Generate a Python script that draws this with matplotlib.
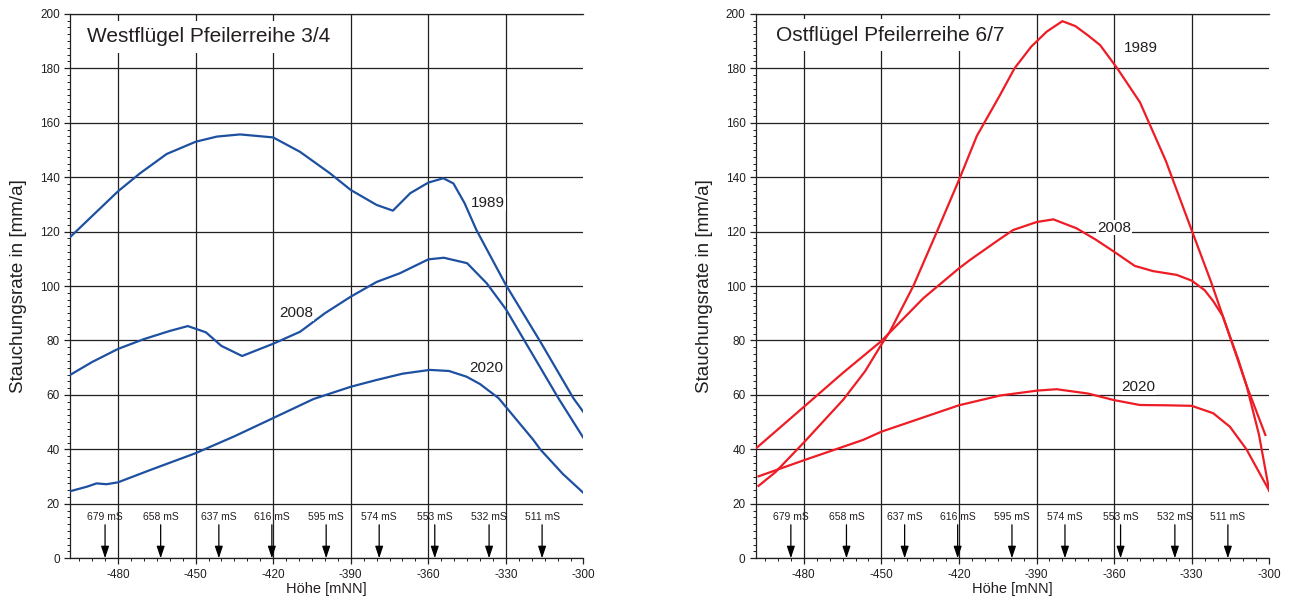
import matplotlib
matplotlib.use("Agg")
import matplotlib.pyplot as plt
from matplotlib.ticker import MultipleLocator

plt.rcParams["font.family"] = ["Liberation Sans", "DejaVu Sans"]
plt.rcParams["axes.unicode_minus"] = False

# ---------------- data ----------------
# Westflügel Pfeilerreihe 3/4
w1989_x = [-498.6, -480, -471.5, -461.2, -450, -441.8, -432.8, -420, -409.6, -398, -390,
           -380, -373.7, -367, -360, -354.2, -350.3, -346, -341.4, -330, -316.7, -303.9, -300]
w1989_y = [117.9, 134.8, 141.4, 148.5, 153.0, 154.9, 155.7, 154.6, 149.3, 141.4, 135.3,
           129.8, 127.7, 134.1, 138.0, 139.6, 137.7, 130.5, 120.6, 100.4, 79.6, 58.8, 53.7]
w2008_x = [-498.6, -490, -480, -470, -460, -453, -446, -440, -432, -420, -409.6, -400,
           -390, -380, -371, -360, -354, -345, -337.4, -330, -309.7, -300]
w2008_y = [67.3, 72.1, 76.9, 80.5, 83.5, 85.3, 83.0, 78.0, 74.3, 78.8, 83.2, 90.0,
           96.1, 101.5, 104.7, 109.8, 110.4, 108.4, 101.0, 91.5, 58.8, 44.2]
w2020_x = [-498.6, -492, -488.3, -484.4, -480, -467.6, -450, -435, -420, -404.4, -390,
           -380, -370, -359.4, -352, -345.2, -340, -332.8, -319.4, -316.7, -308, -300]
w2020_y = [24.6, 26.3, 27.5, 27.2, 27.9, 32.4, 38.6, 44.8, 51.5, 58.5, 63.0,
           65.5, 67.8, 69.2, 68.8, 66.7, 64.0, 58.8, 43.5, 40.0, 31.0, 24.0]

# Ostflügel Pfeilerreihe 6/7
o1989_x = [-497.5, -491, -480, -464.7, -456.3, -450, -446.7, -437.6, -428.6, -419.8, -413.1,
           -404.1, -398.5, -392, -386, -380, -375, -370, -365.4, -358.8, -350, -340, -330,
           -322.5, -315.6, -308.8, -301.5]
o1989_y = [26.6, 31.6, 42.5, 58.3, 68.7, 78.5, 83.3, 100.1, 119.8, 139.4, 155.1,
           170.2, 180.0, 188.0, 193.5, 197.3, 195.5, 192.0, 188.5, 180.0, 167.5, 146.0, 120.5,
           101.5, 82.5, 63.5, 45.3]
o2008_x = [-498.2, -480, -465, -450, -433.8, -420, -415.7, -404, -399, -390, -383.5, -374.5,
           -367, -360, -352, -345, -335.8, -330, -325, -321.7, -318, -315.6, -312, -308.8,
           -304, -300]
o2008_y = [40.6, 55.6, 68.0, 79.8, 95.5, 106.5, 109.6, 117.4, 120.6, 123.5, 124.5, 121.2,
           117.0, 112.6, 107.4, 105.5, 104.1, 102.0, 98.5, 94.5, 89.0, 82.5, 73.0, 63.5,
           45.5, 24.8]
o2020_x = [-497.5, -480, -457, -450, -420, -404, -389.7, -382.2, -370, -360, -350, -340,
           -330, -321.7, -315.2, -308.8, -300]
o2020_y = [30.1, 36.0, 43.5, 46.5, 56.2, 59.8, 61.6, 62.1, 60.5, 58.1, 56.3, 56.2,
           56.0, 53.3, 48.3, 40.0, 24.8]

# Schacht-Markierungen
mark_x = [-485, -463.5, -441, -420.5, -399.5, -379, -357.5, -336.5, -316]
mark_lab = ["679 mS", "658 mS", "637 mS", "616 mS", "595 mS", "574 mS", "553 mS", "532 mS", "511 mS"]

x_ticks = [-480, -450, -420, -390, -360, -330, -300]
y_ticks = list(range(0, 201, 20))

panels = [
    dict(title="Westflügel Pfeilerreihe 3/4", color="#1d50a0",
         series=[(w1989_x, w1989_y), (w2008_x, w2008_y), (w2020_x, w2020_y)],
         labels=[("1989", -337.0, 130.5), ("2008", -411.0, 90.0), ("2020", -337.5, 70.0)],
         title_pos=(-492.0, 191.5)),
    dict(title="Ostflügel Pfeilerreihe 6/7", color="#ee1c25",
         series=[(o1989_x, o1989_y), (o2008_x, o2008_y), (o2020_x, o2020_y)],
         labels=[("1989", -349.5, 187.5), ("2008", -360.0, 121.5), ("2020", -350.5, 63.0)],
         title_pos=(-490.7, 192.2)),
]

TXT = "#231f20"
fig = plt.figure(figsize=(12.92, 5.96), dpi=100)
lefts = [0.0543, 0.5851]

for left, p in zip(lefts, panels):
    ax = fig.add_axes([left, 0.0633, 0.3973, 0.9135])
    ax.set_xlim(-498.5, -300)
    ax.set_ylim(0, 200)
    ax.set_xticks(x_ticks)
    ax.set_yticks(y_ticks)
    ax.xaxis.set_minor_locator(MultipleLocator(5))
    ax.yaxis.set_minor_locator(MultipleLocator(2.5))
    ax.tick_params(which="major", length=4, width=0.9, color=TXT, labelsize=8.5,
                   labelcolor=TXT, direction="out")
    ax.tick_params(which="minor", length=2.5, width=0.7, color=TXT, direction="out")
    ax.grid(True, which="major", color=TXT, lw=0.9)
    ax.get_xgridlines()[-1].set_visible(False)
    ax.spines["right"].set_visible(False)
    for s in ["left", "bottom", "top"]:
        ax.spines[s].set_color(TXT)
        ax.spines[s].set_linewidth(0.9)
    ax.set_axisbelow(True)

    for xs, ys in p["series"]:
        ax.plot(xs, ys, color=p["color"], lw=1.6, solid_joinstyle="round", zorder=3)

    for lab, lx, ly in p["labels"]:
        ax.text(lx, ly, lab, fontsize=11, color=TXT, ha="center", va="center", zorder=4,
                bbox=dict(facecolor="white", edgecolor="none", pad=0.5))

    tx, ty = p["title_pos"]
    ax.text(tx, ty, p["title"], fontsize=15, color=TXT, ha="left", va="center", zorder=4,
            bbox=dict(facecolor="white", edgecolor="none", pad=5))

    for mx, ml in zip(mark_x, mark_lab):
        ax.text(mx, 15.3, ml, fontsize=7.5, color=TXT, ha="center", va="center", zorder=4)
        ax.annotate("", xy=(mx, 0), xytext=(mx, 12.3), zorder=4,
                    arrowprops=dict(arrowstyle="-|>,head_length=0.6,head_width=0.2",
                                    color="black", lw=0.9, mutation_scale=12,
                                    shrinkA=0, shrinkB=0))

    ax.set_xlabel("Höhe [mNN]", fontsize=10.5, color=TXT, labelpad=1)
    ax.set_ylabel("Stauchungsrate in [mm/a]", fontsize=13.5, color=TXT, labelpad=9)

fig.savefig("out.png", dpi=100)
